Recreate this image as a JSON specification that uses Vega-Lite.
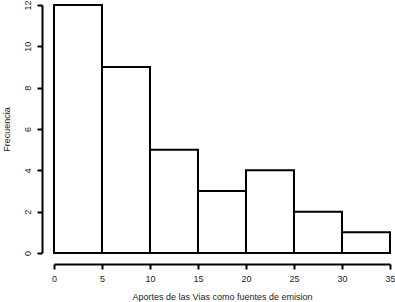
{
  "$schema": "https://vega.github.io/schema/vega-lite/v6.json",
  "width": 336,
  "height": 248,
  "autosize": {"type": "none"},
  "padding": {"left": 54, "top": 5, "right": 5, "bottom": 49},
  "background": "white",
  "config": {
    "view": {"stroke": null},
    "font": "Liberation Sans",
    "axis": {
      "grid": false,
      "domainColor": "#000",
      "domainWidth": 2,
      "tickColor": "#000",
      "tickWidth": 2,
      "tickSize": 5,
      "labelFont": "Liberation Sans",
      "labelFontSize": 9,
      "labelColor": "#222",
      "labelFlush": false,
      "titleFont": "Liberation Sans",
      "titleFontSize": 9,
      "titleFontWeight": "normal",
      "titleColor": "#222"
    }
  },
  "data": {
    "values": [
      {"desde": 0, "hasta": 5, "frecuencia": 12},
      {"desde": 5, "hasta": 10, "frecuencia": 9},
      {"desde": 10, "hasta": 15, "frecuencia": 5},
      {"desde": 15, "hasta": 20, "frecuencia": 3},
      {"desde": 20, "hasta": 25, "frecuencia": 4},
      {"desde": 25, "hasta": 30, "frecuencia": 2},
      {"desde": 30, "hasta": 35, "frecuencia": 1}
    ]
  },
  "mark": {"type": "rect", "fill": "white", "stroke": "black", "strokeWidth": 2},
  "encoding": {
    "x": {
      "field": "desde",
      "type": "quantitative",
      "scale": {"domain": [0, 35], "nice": false},
      "axis": {
        "title": "Aportes de las Vias como fuentes de emision",
        "values": [0, 5, 10, 15, 20, 25, 30, 35],
        "offset": 11,
        "labelPadding": 5,
        "titlePadding": 9
      }
    },
    "x2": {"field": "hasta"},
    "y": {
      "field": "frecuencia",
      "type": "quantitative",
      "scale": {"domain": [0, 12], "nice": false},
      "axis": {
        "title": "Frecuencia",
        "values": [0, 2, 4, 6, 8, 10, 12],
        "offset": 12,
        "labelAngle": -90,
        "labelAlign": "center",
        "labelBaseline": "bottom",
        "labelPadding": 5,
        "titlePadding": 12
      }
    },
    "y2": {"datum": 0}
  }
}
